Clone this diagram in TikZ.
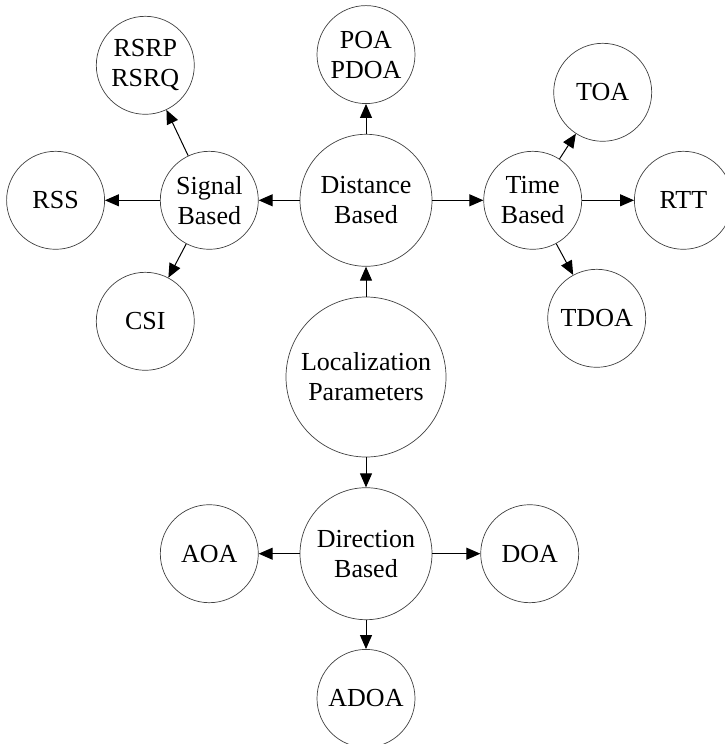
\documentclass[tikz,border=0pt]{standalone}
\usepackage{fontspec}
\setmainfont{Liberation Serif}
\usepackage{tikz}
\usetikzlibrary{arrows.meta, positioning, calc}
\tikzset{param/.style={circle,draw=black!75,line width=0.7pt,minimum size=98pt,inner sep=0pt,align=center,font=\fontsize{26}{30}\selectfont},
         groupparam/.style={param,minimum size=132pt},
         rootparam/.style={param,minimum size=160pt},
         arrow/.style={-{Triangle[length=14pt,width=12pt]},line width=1pt}}

\begin{document}
\begin{tikzpicture}[x=1pt,y=-1pt,node distance=30pt]
    \useasboundingbox (0,0) rectangle (724,744);
    \node (loc) [rootparam] at (366,377) {Localization\\Parameters};
    \node (dist) [groupparam, above=of loc] {Distance\\Based};
    \node (poa) [param, above=of dist] {POA\\PDOA};
    \node (dir) [groupparam, below=of loc] {Direction\\Based};
    \node (adoa) [param, below=29pt of dir] {ADOA};
    \node (sig) [param, left=41pt of dist] {Signal\\Based};
    \node (time) [param, right=51pt of dist] {Time\\Based};
    \node (rss) [param, left=55pt of sig] {RSS};
    \node (rtt) [param, right=52pt of time] {RTT};
    \node (rsrp) [param] at ($(sig)+(-64,-135)$) {RSRP\\RSRQ};
    \node (csi) [param] at ($(sig)+(-64,121)$) {CSI};
    \node (toa) [param] at ($(time)+(70,-108)$) {TOA};
    \node (tdoa) [param] at ($(time)+(64,118)$) {TDOA};
    \node (aoa) [param, left=41pt of dir] {AOA};
    \node (doa) [param, right=48pt of dir] {DOA};
    \draw[arrow] (loc) -- (dist);
    \draw[arrow] (loc) -- (dir);
    \draw[arrow] (dist) -- (poa);
    \draw[arrow] (dist) -- (sig);
    \draw[arrow] (dist) -- (time);
    \draw[arrow] (sig) -- (rsrp);
    \draw[arrow] (sig) -- (rss);
    \draw[arrow] (sig) -- (csi);
    \draw[arrow] (time) -- (toa);
    \draw[arrow] (time) -- (rtt);
    \draw[arrow] (time) -- (tdoa);
    \draw[arrow] (dir) -- (aoa);
    \draw[arrow] (dir) -- (doa);
    \draw[arrow] (dir) -- (adoa);
  \end{tikzpicture}
\end{document}
